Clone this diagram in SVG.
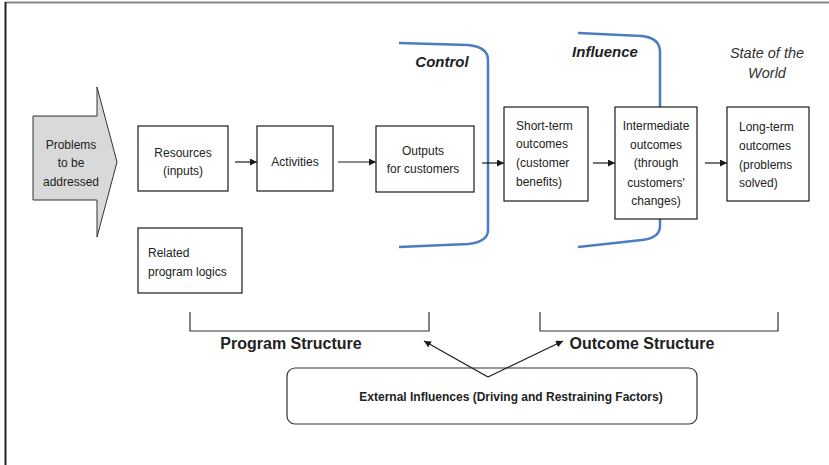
<svg xmlns="http://www.w3.org/2000/svg" width="829" height="465" viewBox="0 0 829 465">
  <style>
    .box { fill: #ffffff; stroke: #1a1a1a; stroke-width: 1.2; }
    .t { font-family: "Liberation Sans", Arial, sans-serif; font-size: 12px; fill: #222222; }
    .mid { text-anchor: middle; }
    .zone { font-family: "Liberation Sans", Arial, sans-serif; font-size: 15px; font-weight: bold; font-style: italic; fill: #1f1f1f; text-anchor: middle; }
    .world { font-family: "Liberation Sans", Arial, sans-serif; font-size: 14.5px; font-style: italic; fill: #333333; text-anchor: middle; }
    .struct { font-family: "Liberation Sans", Arial, sans-serif; font-size: 16px; font-weight: bold; fill: #222222; text-anchor: middle; }
    .bracket { fill: none; stroke: #4a7ebf; stroke-width: 2.5; }
    .link { fill: none; stroke: #1a1a1a; stroke-width: 1.2; }
    .brace { fill: none; stroke: #333333; stroke-width: 1.2; }
  </style>
  <defs>
    <marker id="head" viewBox="0 0 10 10" refX="10" refY="5" markerWidth="7" markerHeight="7" markerUnits="userSpaceOnUse" orient="auto">
      <path d="M0,0 L10,5 L0,10 z" fill="#1a1a1a"/>
    </marker>
  </defs>

  <rect width="829" height="465" fill="#ffffff"/>
  <!-- page frame -->
  <line x1="5" y1="2.5" x2="829" y2="2.5" stroke="#888888" stroke-width="2"/>
  <line x1="5.5" y1="2" x2="5.5" y2="465" stroke="#222222" stroke-width="2"/>

  <!-- blue zone brackets -->
  <g id="control-zone">
    <path class="bracket" d="M399,43 L468,45 Q488,47 488,60 L488,230 Q488,242 468,244 L399,247"/>
    <text class="zone" x="442" y="67">Control</text>
  </g>
  <g id="influence-zone">
    <path class="bracket" d="M578,33 L642,36 Q660,38 660,52 L660,226 Q660,238 642,240 L578,247"/>
    <text class="zone" x="605" y="57">Influence</text>
  </g>
  <g id="state-of-world">
    <text class="world" x="767" y="58">State of the</text>
    <text class="world" x="767" y="78">World</text>
  </g>

  <!-- input arrow -->
  <g id="problems">
    <path d="M33,116 L97,116 L97,87 L117,162 L97,237 L97,200 L33,200 z" fill="#d9d9d9" stroke="#333333" stroke-width="1"/>
    <text class="t mid" x="71" y="149">Problems</text>
    <text class="t mid" x="71" y="167">to be</text>
    <text class="t mid" x="71" y="186">addressed</text>
  </g>

  <g id="resources">
    <rect class="box" x="138" y="126" width="90" height="65"/>
    <text class="t mid" x="183" y="157">Resources</text>
    <text class="t mid" x="183" y="175">(inputs)</text>
  </g>
  <g id="activities">
    <rect class="box" x="257" y="126" width="76" height="65"/>
    <text class="t mid" x="295" y="166">Activities</text>
  </g>
  <g id="outputs">
    <rect class="box" x="376" y="126" width="98" height="66"/>
    <text class="t mid" x="423" y="155">Outputs</text>
    <text class="t mid" x="423" y="173">for customers</text>
  </g>
  <g id="short-term">
    <rect class="box" x="504" y="107" width="84" height="94"/>
    <text class="t" x="516" y="130">Short-term</text>
    <text class="t" x="516" y="148">outcomes</text>
    <text class="t" x="516" y="167">(customer</text>
    <text class="t" x="516" y="186">benefits)</text>
  </g>
  <g id="intermediate">
    <rect class="box" x="615" y="107" width="82" height="112"/>
    <text class="t mid" x="656" y="130">Intermediate</text>
    <text class="t mid" x="656" y="149">outcomes</text>
    <text class="t mid" x="656" y="167">(through</text>
    <text class="t mid" x="656" y="187">customers'</text>
    <text class="t mid" x="656" y="205">changes)</text>
  </g>
  <g id="long-term">
    <rect class="box" x="727" y="107" width="82" height="94"/>
    <text class="t" x="739" y="131">Long-term</text>
    <text class="t" x="739" y="150">outcomes</text>
    <text class="t" x="739" y="169">(problems</text>
    <text class="t" x="739" y="187">solved)</text>
  </g>
  <g id="related">
    <rect class="box" x="138" y="228" width="104" height="65"/>
    <text class="t" x="148" y="257">Related</text>
    <text class="t" x="148" y="276">program logics</text>
  </g>

  <g id="program-structure">
    <path class="brace" d="M190,312 L190,331 L429,331 L429,312"/>
    <text class="struct" x="291" y="349">Program Structure</text>
  </g>
  <g id="outcome-structure">
    <path class="brace" d="M540,312 L540,331 L778,331 L778,312"/>
    <text class="struct" x="642" y="349">Outcome Structure</text>
  </g>
  <g id="external">
    <rect x="287" y="368" width="410" height="56" rx="8" ry="8" fill="none" stroke="#333333" stroke-width="1.2"/>
    <text class="t" x="511" y="401" text-anchor="middle" font-weight="bold" font-size="11px">External Influences (Driving and Restraining Factors)</text>
  </g>

  <!-- connectors -->
  <g id="connectors">
    <line class="link" x1="235" y1="162" x2="257" y2="162" marker-end="url(#head)"/>
    <line class="link" x1="338" y1="162" x2="376" y2="162" marker-end="url(#head)"/>
    <line class="link" x1="482" y1="163" x2="504" y2="163" marker-end="url(#head)"/>
    <line class="link" x1="593" y1="163" x2="615" y2="163" marker-end="url(#head)"/>
    <line class="link" x1="705" y1="163" x2="727" y2="163" marker-end="url(#head)"/>
    <line class="link" x1="488" y1="377" x2="424" y2="341" marker-end="url(#head)"/>
    <line class="link" x1="488" y1="377" x2="563" y2="341" marker-end="url(#head)"/>
  </g>
</svg>
